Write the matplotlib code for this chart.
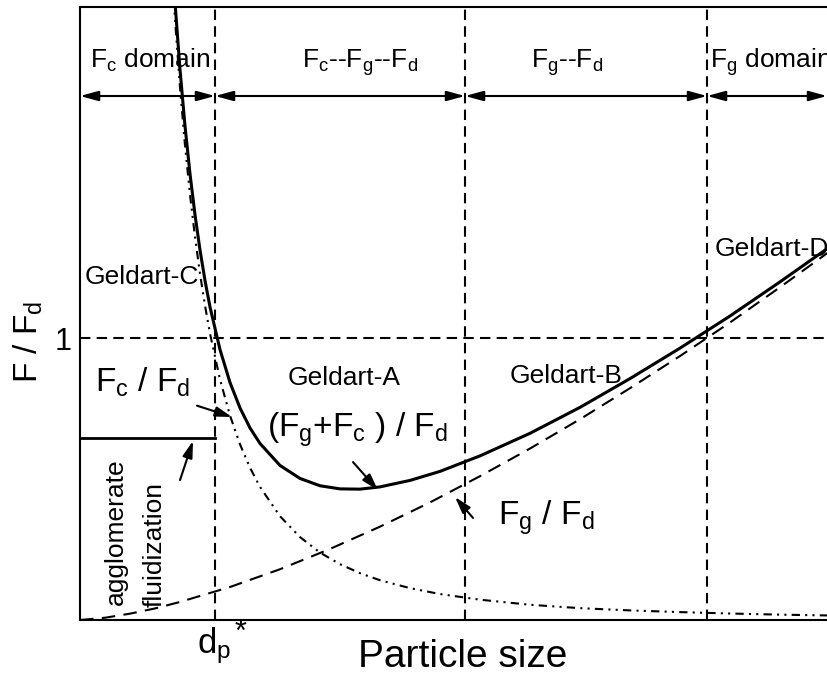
import matplotlib
matplotlib.use('Agg')
import matplotlib.pyplot as plt

plt.rcParams['font.family'] = ['Liberation Sans', 'DejaVu Sans']
plt.rcParams['mathtext.fontset'] = 'custom'
plt.rcParams['mathtext.rm'] = 'Liberation Sans'
plt.rcParams['mathtext.it'] = 'Liberation Sans'
plt.rcParams['mathtext.default'] = 'regular'

# values (arbitrary units)
x_fg = [0, 0.25, 0.5, 0.75, 1.0, 1.5, 2.0, 2.5, 3.0, 3.5, 4.0, 4.5, 5.0, 5.5, 6.0, 6.5, 7.0, 7.5]
fg_fd = [0, 0.008, 0.0225, 0.041, 0.064, 0.117, 0.180, 0.252, 0.331, 0.417, 0.510, 0.608, 0.712, 0.822, 0.936, 1.055, 1.180, 1.308]

x_fc = [0.93, 0.95, 1.0, 1.05, 1.1, 1.15, 1.2, 1.25, 1.3, 1.4, 1.5, 1.6, 1.7, 1.8, 2.0,
        2.2, 2.4, 2.6, 2.8, 3.0, 3.3, 3.6, 4.0, 4.5, 5.0, 5.5, 6.0, 6.5, 7.0, 7.5]
fc_fd = [2.241, 2.131, 1.888, 1.683, 1.508, 1.358, 1.228, 1.115, 1.016, 0.853, 0.725, 0.623, 0.540, 0.472, 0.368,
         0.294, 0.239, 0.198, 0.166, 0.141, 0.113, 0.092, 0.072, 0.054, 0.042, 0.034, 0.028, 0.023, 0.019, 0.016]
fgc_fd = [2.298, 2.190, 1.952, 1.752, 1.582, 1.437, 1.312, 1.204, 1.110, 0.959, 0.842, 0.752, 0.681, 0.626, 0.548,
          0.502, 0.476, 0.465, 0.464, 0.472, 0.495, 0.527, 0.582, 0.662, 0.754, 0.856, 0.964, 1.078, 1.199, 1.324]

# domain borders
borders = [0, 1.35, 3.85, 6.27, 7.47]
domain_labels = [r'F$_{c}$ domain', r'F$_{c}$--F$_{g}$--F$_{d}$', r'F$_{g}$--F$_{d}$', r'F$_{g}$ domain']
agglo_level = 0.645

fig = plt.figure(figsize=(8.27, 6.78), dpi=100)
ax = fig.add_axes([80 / 827, 58 / 678, 750 / 827, 613 / 678])
ax.set_xlim(0, 7.5)
ax.set_ylim(0, 613 / 282)

for s in ['left', 'bottom', 'top']:
    ax.spines[s].set_linewidth(1.5)
ax.spines['right'].set_visible(False)

ax.set_xticks([])
ax.set_yticks([1])
ax.set_yticklabels(['1'], fontsize=22)
ax.tick_params(axis='y', length=0, pad=6)

# dashed grid
for xb in borders[1:4]:
    ax.plot([xb, xb], [0, 3], color='k', lw=1.5, ls=(0, (5, 3)))
ax.plot([0, 7.5], [1, 1], color='k', lw=1.5, ls=(0, (5, 3)))

# curves
ax.plot(x_fg, fg_fd, color='k', lw=1.5, ls=(0, (6.5, 4)))
ax.plot(x_fc, fc_fd, color='k', lw=1.5, ls=(0, (4, 2.5, 1, 2.5, 1, 2.5)))
ax.plot(x_fc, fgc_fd, color='k', lw=2.2)
ax.plot([0, borders[1]], [agglo_level, agglo_level], color='k', lw=2)

# double arrows for domains
ya = (620 - 96) / 282
for i in range(4):
    ax.annotate('', xy=(borders[i + 1], ya), xytext=(borders[i], ya),
                arrowprops=dict(arrowstyle='<|-|>,head_length=1.1,head_width=0.3',
                                mutation_scale=10, color='k', lw=1.5,
                                shrinkA=0, shrinkB=0))

yt = (620 - 68) / 282
ax.text(0.70, yt, domain_labels[0], fontsize=19, ha='center', va='baseline')
ax.text(2.80, yt, domain_labels[1], fontsize=19, ha='center', va='baseline')
ax.text(4.87, yt, domain_labels[2], fontsize=19, ha='center', va='baseline')
ax.text(6.30, yt, domain_labels[3], fontsize=19, ha='left', va='baseline')

# Geldart groups
ax.text(0.05, 1.191, 'Geldart-C', fontsize=19, va='baseline')
ax.text(2.08, 0.833, 'Geldart-A', fontsize=19, va='baseline')
ax.text(4.30, 0.840, 'Geldart-B', fontsize=19, va='baseline')
ax.text(6.35, 1.291, 'Geldart-D', fontsize=19, va='baseline')

# curve labels
ax.text(0.15, 0.809, r'F$_{c}$ / F$_{d}$', fontsize=24, va='baseline')
ax.text(1.87, 0.649, r'(F$_{g}$+F$_{c}$ ) / F$_{d}$', fontsize=24, va='baseline')
ax.text(4.18, 0.337, r'F$_{g}$ / F$_{d}$', fontsize=24, va='baseline')

arr = dict(arrowstyle='-|>,head_length=1.0,head_width=0.3', mutation_scale=10,
           color='k', lw=1.5, shrinkA=0, shrinkB=0)
ax.annotate('', xy=(1.52, 0.72), xytext=(1.17, 0.76), arrowprops=arr)
ax.annotate('', xy=(2.98, 0.46), xytext=(2.73, 0.56), arrowprops=arr)
ax.annotate('', xy=(3.75, 0.436), xytext=(3.93, 0.362), arrowprops=arr)
ax.annotate('', xy=(1.13, 0.635), xytext=(1.00, 0.496), arrowprops=arr)

ax.text(0.36, 0.053, 'agglomerate', fontsize=19, rotation=90, ha='center', va='bottom')
ax.text(0.75, 0.046, 'fluidization', fontsize=19, rotation=90, ha='center', va='bottom')

# axis labels
ax.text(1.17, -0.117, r'd$_{p}$', fontsize=25, ha='left', va='baseline')
ax.text(1.55, -0.075, '*', fontsize=22, ha='left', va='baseline')
fig.text(463 / 827, 1 - 667 / 678, 'Particle size', fontsize=28, ha='center', va='baseline')
fig.text(28 / 827, 1 - 342 / 678, r'F / F$_{d}$', fontsize=24, rotation=90, ha='center', va='center')

fig.savefig('out.png', dpi=100)
